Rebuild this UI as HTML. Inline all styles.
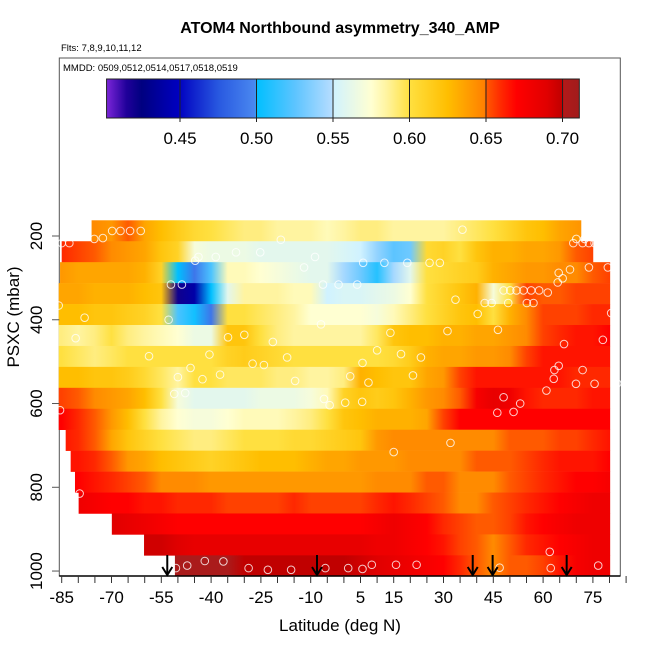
<!DOCTYPE html>
<html><head><meta charset="utf-8"><style>
body{margin:0;background:#fff;}
svg text{font-family:"Liberation Sans",sans-serif;}
</style></head><body>
<svg id="chart" width="650" height="650" viewBox="0 0 650 650" xmlns="http://www.w3.org/2000/svg">
<defs id="defs"></defs>
<text x="340" y="33" text-anchor="middle" font-size="16" font-weight="bold">ATOM4 Northbound asymmetry_340_AMP</text>
<text x="61" y="51" font-size="9.5">Flts: 7,8,9,10,11,12</text>
<rect x="59.3" y="58" width="561" height="518" fill="none" stroke="#555" stroke-width="1"/>
<text x="63" y="71" font-size="9.5">MMDD: 0509,0512,0514,0517,0518,0519</text>
<g id="colorbar"></g>
<g id="heat"></g>
<g id="pts"></g>
<g id="arrows"></g>
<g id="axes"></g>
<text transform="translate(19,317) rotate(-90)" text-anchor="middle" font-size="17">PSXC (mbar)</text>
<text x="340" y="631" text-anchor="middle" font-size="17">Latitude (deg N)</text>
</svg>
<script>
const NS="http://www.w3.org/2000/svg";
const lats=[-85,-80,-75,-70,-65,-60,-55,-50,-45,-40,-35,-30,-25,-20,-15,-10,-5,0,5,10,15,20,25,30,35,40,45,50,55,60,65,70,75,80,85];
const rowPressures=[187.5,237.5,287.5,337.5,387.5,437.5,487.5,537.5,587.5,637.5,687.5,737.5,787.5,837.5,887.5,937.5,987.5];
const rowStartLat=[-76,-85,-85.5,-85.9,-85.9,-85.9,-85.9,-85.9,-85.9,-85.9,-83.8,-82.3,-81,-79.9,-69.9,-60.2,-50.9];
const rowEndLat=[71.5,75.1,80.2,80.2,80.2,80.2,80.2,80.2,80.2,80.2,80.2,80.2,80.2,80.2,80.2,80.2,80.2];
const row1=[0.645,0.645,0.645,0.64,0.65,0.635,0.625,0.615,0.605,0.6,0.595,0.59,0.59,0.585,0.585,0.585,0.58,0.585,0.59,0.59,0.585,0.585,0.585,0.585,0.59,0.595,0.6,0.61,0.62,0.625,0.635,0.64,0.645,0.645,0.645];
const row2=[0.66,0.655,0.65,0.645,0.64,0.635,0.62,0.61,0.57,0.565,0.565,0.565,0.56,0.56,0.56,0.56,0.56,0.555,0.55,0.54,0.525,0.53,0.605,0.61,0.6,0.62,0.63,0.63,0.635,0.635,0.64,0.65,0.655,0.66,0.66];
const row3=[0.64,0.635,0.635,0.635,0.635,0.63,0.61,0.5,0.49,0.52,0.58,0.58,0.575,0.57,0.565,0.56,0.56,0.545,0.53,0.51,0.545,0.56,0.6,0.605,0.61,0.615,0.63,0.635,0.64,0.64,0.645,0.645,0.65,0.655,0.655];
const row4=[0.635,0.635,0.63,0.63,0.63,0.625,0.62,0.42,0.44,0.5,0.56,0.585,0.585,0.585,0.58,0.58,0.55,0.555,0.555,0.56,0.565,0.575,0.6,0.61,0.62,0.63,0.57,0.6,0.655,0.65,0.65,0.655,0.655,0.655,0.655];
const row5=[0.625,0.625,0.62,0.62,0.615,0.61,0.6,0.52,0.505,0.49,0.6,0.6,0.595,0.59,0.585,0.575,0.575,0.575,0.575,0.57,0.58,0.59,0.6,0.61,0.62,0.625,0.6,0.63,0.645,0.655,0.655,0.655,0.66,0.66,0.66];
const row6=[0.59,0.585,0.59,0.6,0.59,0.585,0.58,0.575,0.565,0.565,0.62,0.62,0.6,0.59,0.585,0.585,0.585,0.585,0.585,0.595,0.62,0.625,0.625,0.63,0.63,0.635,0.635,0.64,0.645,0.655,0.66,0.665,0.665,0.67,0.67];
const row7=[0.6,0.595,0.59,0.595,0.6,0.6,0.6,0.6,0.6,0.6,0.61,0.615,0.61,0.605,0.6,0.6,0.6,0.6,0.6,0.6,0.605,0.615,0.63,0.635,0.635,0.64,0.64,0.645,0.655,0.665,0.665,0.665,0.665,0.665,0.665];
const row8=[0.625,0.625,0.62,0.62,0.615,0.605,0.595,0.585,0.6,0.6,0.595,0.595,0.595,0.59,0.59,0.585,0.585,0.59,0.63,0.625,0.62,0.62,0.635,0.64,0.655,0.665,0.665,0.665,0.665,0.665,0.665,0.66,0.66,0.66,0.66];
const row9=[0.655,0.65,0.645,0.64,0.635,0.625,0.6,0.57,0.56,0.56,0.56,0.56,0.565,0.565,0.565,0.57,0.58,0.61,0.62,0.615,0.62,0.63,0.64,0.645,0.65,0.675,0.685,0.68,0.665,0.66,0.66,0.66,0.665,0.665,0.665];
const row10=[0.67,0.66,0.65,0.64,0.625,0.6,0.585,0.575,0.57,0.57,0.575,0.58,0.58,0.58,0.585,0.59,0.6,0.62,0.625,0.63,0.63,0.63,0.635,0.655,0.67,0.67,0.67,0.67,0.67,0.67,0.67,0.67,0.67,0.67,0.67];
const row11=[0.665,0.66,0.65,0.635,0.62,0.61,0.6,0.595,0.59,0.59,0.595,0.6,0.6,0.6,0.605,0.605,0.61,0.615,0.62,0.64,0.645,0.645,0.645,0.645,0.645,0.645,0.645,0.65,0.65,0.65,0.655,0.655,0.66,0.665,0.665];
const row12=[0.665,0.665,0.66,0.65,0.64,0.635,0.625,0.62,0.615,0.61,0.615,0.62,0.625,0.625,0.625,0.63,0.635,0.635,0.64,0.64,0.64,0.645,0.645,0.645,0.645,0.65,0.65,0.65,0.655,0.66,0.665,0.665,0.665,0.67,0.67];
const row13=[0.67,0.67,0.665,0.66,0.655,0.65,0.645,0.645,0.645,0.64,0.64,0.64,0.64,0.64,0.64,0.64,0.64,0.64,0.64,0.645,0.645,0.645,0.65,0.65,0.645,0.645,0.645,0.65,0.655,0.66,0.665,0.67,0.67,0.675,0.675];
const row14=[0.68,0.68,0.675,0.67,0.67,0.665,0.665,0.66,0.66,0.66,0.655,0.655,0.655,0.655,0.66,0.655,0.655,0.655,0.655,0.66,0.665,0.66,0.655,0.65,0.645,0.645,0.65,0.655,0.66,0.665,0.67,0.675,0.68,0.68,0.68];
const row15=[0.69,0.69,0.69,0.69,0.685,0.68,0.675,0.67,0.67,0.67,0.67,0.67,0.67,0.67,0.67,0.67,0.67,0.67,0.67,0.675,0.68,0.675,0.67,0.66,0.655,0.65,0.65,0.655,0.665,0.67,0.675,0.68,0.68,0.68,0.68];
const row16=[0.695,0.695,0.695,0.695,0.695,0.695,0.695,0.69,0.685,0.685,0.685,0.685,0.685,0.685,0.685,0.685,0.685,0.685,0.685,0.68,0.68,0.675,0.67,0.665,0.655,0.65,0.645,0.65,0.66,0.665,0.67,0.675,0.68,0.68,0.68];
const row17=[0.705,0.705,0.705,0.705,0.705,0.705,0.705,0.705,0.705,0.705,0.705,0.7,0.7,0.7,0.7,0.7,0.7,0.7,0.695,0.69,0.685,0.68,0.675,0.67,0.66,0.65,0.645,0.65,0.65,0.655,0.665,0.675,0.68,0.68,0.68];
const rows=[row1,row2,row3,row4,row5,row6,row7,row8,row9,row10,row11,row12,row13,row14,row15,row16,row17];
const ptLat=[-69.8,-67.3,-64.4,-61.2,35.7,-75.2,-72.6,-19,70,72.5,-85,-82.7,69.1,71.9,73.8,75.5,-43.8,-38.6,-32.5,-25.2,-8.7,-44.8,5.8,12.2,19.1,25.8,28.9,-12,68.1,64.7,73.8,79.5,81.7,65.9,64.4,-52.1,-48.8,-6.3,-1.6,4,48.1,50.1,52,54.1,56.4,58.8,61.4,33.6,42.4,44.5,49.5,55.1,57.1,-85.9,-78.1,-52.8,40.3,80.5,-6.9,-80.8,-34.9,-30,-21.4,14,31.2,46.4,78,66.3,-58.7,-40.5,-27.5,-24.1,-17.1,10,17.2,23.2,5.6,-46.2,-50,-42.6,-37.3,-14.7,1.9,7.4,20.8,64.7,63.4,71.9,63.2,69.9,75.5,82.3,61,-51.1,-47.8,-6,-4.3,0.4,5.5,48.1,53.1,51.1,46.2,-85.5,15,32.1,-79.6,62,-50.6,-47.2,-41.9,-36.3,-28.7,-22.9,-15.9,-5.6,1.3,5.6,8.4,15.7,21.9,46.9,62.3,76.6,81.6];
const ptP=[188,188,188,188,185,207,205,209,207,207,217,217,217,217,217,217,250,250,239,239,250,259,264,264,264,264,264,275,280,288,275,275,281,301,311,316,316,316,316,316,330,330,330,330,330,330,335,352,360,360,360,360,360,366,395,400,386,384,411,444,442,436,453,431,427,424,448,458,487,483,505,508,490,473,482,490,503,515,537,542,531,546,535,550,533,510,520,520,541,553,553,552,569,577,575,589,604,598,596,585,600,620,622,616,716,694,815,954,993,987,976,977,993,997,997,993,993,995,985,985,985,992,993,987,993];
const arrowLats=[-53.2,-8.1,38.8,44.8,67.1];
const cbValues=[0.45,0.50,0.55,0.60,0.65,0.70];
const cbLabels=["0.45","0.50","0.55","0.60","0.65","0.70"];
const xTickLabelVals=[-85,-70,-55,-40,-25,-10,5,15,30,45,60,75];
const yTickVals=[200,400,600,800,1000];

const xS=l=>61.7+(l+85)*3.32;
const yS=p=>236+(p-200)*0.4188;
const cbS=v=>180+(v-0.45)*1530;
const stops=[[0.40,"#8a2be2"],[0.415,"#20009a"],[0.425,"#000080"],[0.449,"#0000c0"],[0.475,"#2858e0"],[0.499,"#4a88f0"],[0.50,"#00bfff"],[0.525,"#5cc4ff"],[0.549,"#b4dcff"],[0.55,"#d0f2ff"],[0.575,"#ffffd2"],[0.585,"#fff4a0"],[0.60,"#ffe040"],[0.625,"#ffbe00"],[0.64,"#ff9800"],[0.649,"#ff8000"],[0.65,"#ff5a00"],[0.66,"#ff2800"],[0.67,"#ff0000"],[0.69,"#e00000"],[0.70,"#c00000"],[0.701,"#b01a1a"],[0.712,"#a01c1c"]];
function hx(h){return [1,3,5].map(i=>parseInt(h.substr(i,2),16));}
function col(v){
 if(v<=stops[0][0])return stops[0][1];
 for(let i=1;i<stops.length;i++){if(v<=stops[i][0]){const a=stops[i-1],b=stops[i];const t=(v-a[0])/(b[0]-a[0]);const c1=hx(a[1]),c2=hx(b[1]);return "rgb("+c1.map((c,k)=>Math.round(c+(c2[k]-c)*t)).join(",")+")";}}
 return stops[stops.length-1][1];
}
function mk(tag,attrs,parent){const e=document.createElementNS(NS,tag);for(const k in attrs)e.setAttribute(k,attrs[k]);parent.appendChild(e);return e;}
const defs=document.getElementById('defs');
const cb=document.getElementById('colorbar');
const cg=mk('linearGradient',{id:'cbg',gradientUnits:'userSpaceOnUse',x1:cbS(0.40),x2:cbS(0.712),y1:0,y2:0},defs);
stops.forEach(s=>mk('stop',{offset:((s[0]-0.40)/0.312).toFixed(4),'stop-color':s[1]},cg));
const cbr=mk('rect',{x:cbS(0.402),y:79,width:cbS(0.711)-cbS(0.402),height:39,fill:'url(#cbg)',stroke:'#222','stroke-width':1},cb);


cbValues.forEach((v,i)=>{
 const l=mk('line',{x1:cbS(v),x2:cbS(v),y1:79,y2:122,stroke:'#222','stroke-width':1},cb);
 
 
 const t=mk('text',{x:cbS(v),y:144,'text-anchor':'middle','font-size':17},cb);t.textContent=cbLabels[i];
 
 
});
const heat=document.getElementById('heat');
rows.forEach((r,i)=>{
 const g=mk('linearGradient',{id:'rg'+i,gradientUnits:'userSpaceOnUse',x1:xS(-85),x2:xS(85),y1:0,y2:0},defs);
 r.forEach((v,j)=>mk('stop',{offset:((lats[j]+85)/170).toFixed(4),'stop-color':col(v)},g));
 const p=rowPressures[i];
 const y0=yS(p-25),y1=yS(p+25);
 const x0=xS(rowStartLat[i]),x1=xS(rowEndLat[i]);
 const rc=mk('rect',{x:x0,y:y0,width:x1-x0,height:y1-y0+0.3,fill:'url(#rg'+i+')'},heat);
 
 
});
const pts=document.getElementById('pts');
ptLat.forEach((l,i)=>{
 const c=mk('circle',{cx:xS(l),cy:yS(ptP[i]),r:3.8,fill:'none',stroke:'#fff','stroke-opacity':0.8,'stroke-width':1},pts);
 
 
});
const ar=document.getElementById('arrows');
arrowLats.forEach(l=>{
 const x=xS(l);
 const g=mk('g',{},ar);
 
 
 mk('line',{x1:x,x2:x,y1:555,y2:575,stroke:'#000','stroke-width':2},g);
 mk('path',{d:`M${x-5},${567} L${x},${575} L${x+5},${567}`,fill:'none',stroke:'#000','stroke-width':2},g);
});
const ax=document.getElementById('axes');
mk('line',{x1:59.3,x2:620.3,y1:576,y2:576,stroke:'#000','stroke-width':1.5},ax);
for(let l=-85;l<=85;l+=5){
 const t=mk('line',{x1:xS(l),x2:xS(l),y1:576,y2:583,stroke:'#333','stroke-width':1},ax);
 
 
}
xTickLabelVals.forEach(v=>{
 const t=mk('text',{x:xS(v),y:603,'text-anchor':'middle','font-size':17},ax);t.textContent=String(v);
 
 
});
yTickVals.forEach(v=>{
 const y=yS(v);
 const t=mk('line',{x1:52,x2:59.3,y1:y,y2:y,stroke:'#555','stroke-width':1},ax);
 
 
 const lb=mk('text',{transform:`translate(42,${y}) rotate(-90)`,'text-anchor':'middle','font-size':17},ax);lb.textContent=String(v);
 
 
});
</script>
</body></html>
